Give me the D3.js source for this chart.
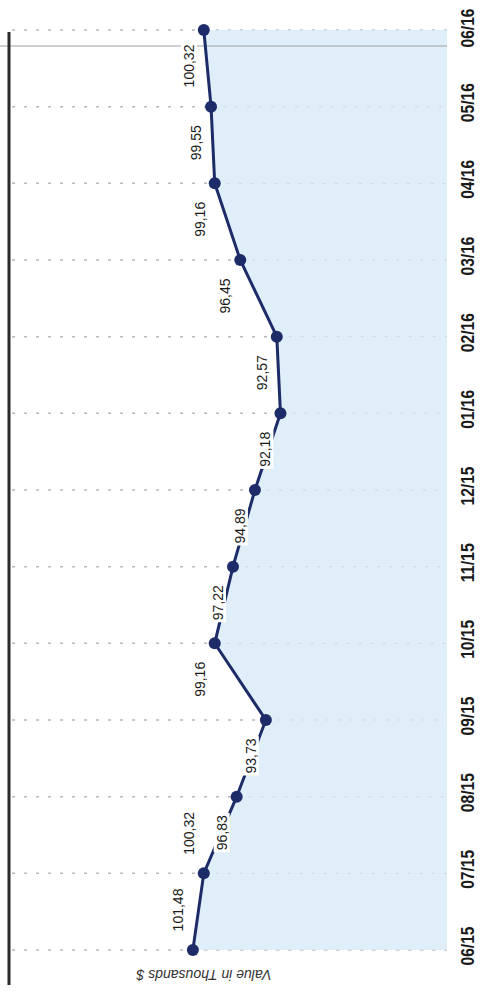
<!DOCTYPE html>
<html><head><meta charset="utf-8">
<script src="https://cdn.jsdelivr.net/npm/d3@7"></script>
<style>html,body{margin:0;padding:0;background:#fff}</style>
</head><body>
<svg id="c" width="482" height="992"></svg>
<script>
const categories = ["06/15","07/15","08/15","09/15","10/15","11/15","12/15","01/16","02/16","03/16","04/16","05/16","06/16"];
const values = [101.48,100.32,96.83,93.73,99.16,97.22,94.89,92.18,92.57,96.45,99.16,99.55,100.32];
const valueLabels = ["101,48","100,32","96,83","93,73","99,16","97,22","94,89","92,18","92,57","96,45","99,16","99,55","100,32"];
const axisTitle = "Value in Thousands $";

const data = categories.map((c, i) => ({c, v: values[i], label: valueLabels[i], i}));

const svg = d3.select("#c");
const base = 447;
const y = d3.scalePoint().domain(categories).range([950, 30]);
const x = d3.scaleLinear().domain([74.5, 121]).range([base, 9]);

const navy = "#1d2b68";

// gridlines (dotted)
svg.append("g").selectAll("line").data(data).join("line")
  .attr("x1", 12).attr("x2", base)
  .attr("y1", d => y(d.c)).attr("y2", d => y(d.c))
  .attr("stroke", "#b8b8b8").attr("stroke-width", 1.5)
  .attr("stroke-dasharray", "3,9");

// area fill
const area = d3.area().y(d => y(d.c)).x0(base).x1(d => x(d.v));
svg.append("path").datum(data).attr("d", area).attr("fill", "#e0eefa");

// faint gridlines over the area
svg.append("g").selectAll("line").data(data).join("line")
  .attr("x1", d => x(d.v)).attr("x2", base)
  .attr("y1", d => y(d.c)).attr("y2", d => y(d.c))
  .attr("stroke", "#c9d9e6").attr("stroke-width", 1)
  .attr("stroke-dasharray", "3,9");

// thin horizontal rule near top
svg.append("line").attr("x1", 0).attr("x2", base).attr("y1", 46).attr("y2", 46)
  .attr("stroke", "#a0a0a0").attr("stroke-width", 1);

// left heavy rule
svg.append("line").attr("x1", 9).attr("x2", 9).attr("y1", 32).attr("y2", 985)
  .attr("stroke", "#2b2b2b").attr("stroke-width", 3);

// line
const line = d3.line().y(d => y(d.c)).x(d => x(d.v));
svg.append("path").datum(data).attr("d", line)
  .attr("fill", "none").attr("stroke", navy).attr("stroke-width", 3);

// data labels with white boxes
const lab = svg.append("g").selectAll("g").data(data).join("g")
  .attr("transform", d => {
    const dy = d.i < 2 ? -40 : 36;
    return `translate(${x(d.v) - 15},${y(d.c) + dy}) rotate(-90)`;
  });
lab.append("text")
  .attr("text-anchor", "middle").attr("dominant-baseline", "central")
  .attr("font-family", "Liberation Sans, Arial, sans-serif")
  .attr("font-size", 14).attr("fill", "#1a1a1a")
  .text(d => d.label)
  .each(function() {
    const b = this.getBBox();
    d3.select(this.parentNode).insert("rect", "text")
      .attr("x", b.x - 2).attr("y", b.y).attr("width", b.width + 4).attr("height", b.height)
      .attr("fill", "#fff");
  });

// dots
svg.append("g").selectAll("circle").data(data).join("circle")
  .attr("cx", d => x(d.v)).attr("cy", d => y(d.c)).attr("r", 6)
  .attr("fill", navy);

// category axis labels
svg.append("g").selectAll("text").data(categories).join("text")
  .attr("transform", c => `translate(467,${Math.max(y(c) - 4, 28)}) rotate(-90)`)
  .attr("text-anchor", "middle").attr("dominant-baseline", "central")
  .attr("font-family", "Liberation Sans, Arial, sans-serif")
  .attr("font-weight", "bold").attr("font-size", 19)
  .attr("textLength", 39).attr("lengthAdjust", "spacingAndGlyphs")
  .attr("fill", "#1a1a1a")
  .text(c => c);

// axis title (upside down)
svg.append("text")
  .attr("transform", "translate(204,975) rotate(180)")
  .attr("text-anchor", "middle").attr("dominant-baseline", "central")
  .attr("font-family", "Liberation Sans, Arial, sans-serif")
  .attr("font-style", "italic").attr("font-size", 14)
  .attr("fill", "#333")
  .text(axisTitle);
</script>
</body></html>
